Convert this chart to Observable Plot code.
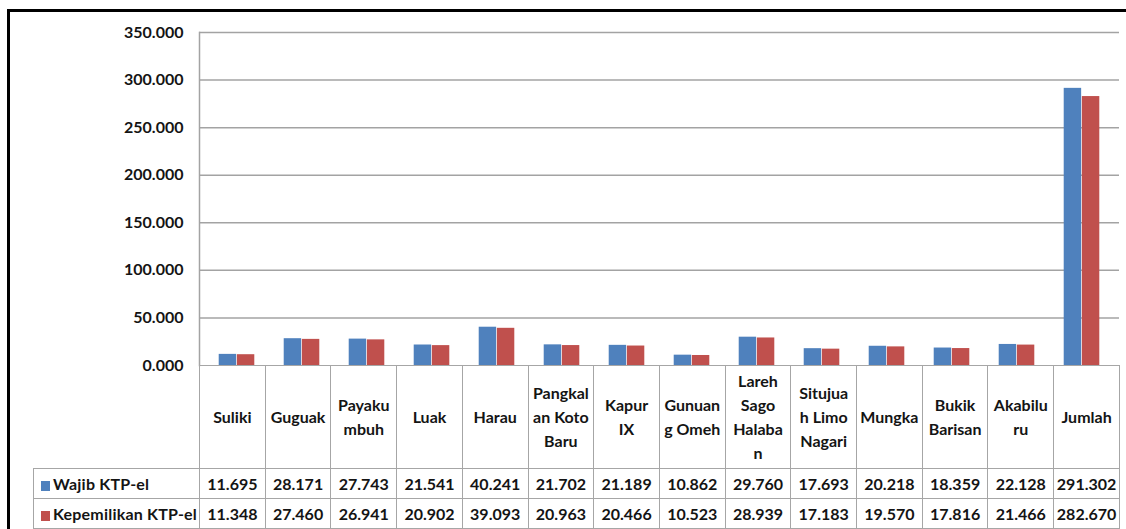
<!DOCTYPE html>
<html>
<head>
<meta charset="utf-8">
<script src="https://cdn.jsdelivr.net/npm/d3@7"></script>
<script src="https://cdn.jsdelivr.net/npm/@observablehq/plot@0.6"></script>
<style>
  body { margin: 0; background: #fff; }
  #wrap { position: relative; width: 1126px; height: 529px; overflow: hidden;
          font-family: Lato, "Open Sans", sans-serif; font-weight: 700; color: #141414; }
  #frame { position: absolute; left: 7px; top: 9px; width: 1300px; height: 700px;
           border-top: 3px solid #000; border-left: 3px solid #000; }
  #chart { position: absolute; left: 0; top: 0; }
  #table { position: absolute; left: 33px; top: 365px; border-collapse: collapse;
           table-layout: fixed; width: 1087px; }
  #table td { border: 1px solid #a6a6a6; text-align: center; font-size: 16px;
              padding: 0; overflow: hidden; }
  #table tr.cats td { height: 102px; white-space: pre-line; line-height: 24px; vertical-align: middle; }
  #table tr.cats td.blank { border-top: hidden; border-left: hidden; }
  #table tr.vals td { height: 29px; }
  #table td.key { text-align: left; padding-left: 7px; white-space: nowrap; letter-spacing: 0.2px; }
  .sw { display: inline-block; width: 9px; height: 10px; margin-right: 3px; vertical-align: -1px; }
</style>
</head>
<body>
<div id="wrap">
  <div id="frame"></div>
  <div id="chart"></div>
  <table id="table"></table>
</div>
<script>
// Kecamatan (districts) and the total column
const districts = ["Suliki", "Guguak", "Payakumbuh", "Luak", "Harau", "Pangkalan Koto Baru",
  "Kapur IX", "Gunuang Omeh", "Lareh Sago Halaban", "Situjuah Limo Nagari", "Mungka",
  "Bukik Barisan", "Akabiluru", "Jumlah"];
// Wrapped header text as shown in the data table
const districtLabels = ["Suliki", "Guguak", "Payaku\nmbuh", "Luak", "Harau", "Pangkal\nan Koto\nBaru",
  "Kapur\nIX", "Gunuan\ng Omeh", "Lareh\nSago\nHalaba\nn", "Situjua\nh Limo\nNagari", "Mungka",
  "Bukik\nBarisan", "Akabilu\nru", "Jumlah"];
const seriesNames = ["Wajib KTP-el", "Kepemilikan KTP-el"];
const seriesColors = ["#4F81BD", "#C0504D"];
// Values in thousands of people
const wajib = [11.695, 28.171, 27.743, 21.541, 40.241, 21.702, 21.189, 10.862, 29.760, 17.693,
  20.218, 18.359, 22.128, 291.302];
const kepemilikan = [11.348, 27.460, 26.941, 20.902, 39.093, 20.963, 20.466, 10.523, 28.939, 17.183,
  19.570, 17.816, 21.466, 282.670];
const yTicks = [0, 50, 100, 150, 200, 250, 300, 350];
const yTickLabels = ["0.000", "50.000", "100.000", "150.000", "200.000", "250.000", "300.000", "350.000"];

const rows = districts.flatMap((d, i) => [
  {district: d, series: seriesNames[0], value: wajib[i]},
  {district: d, series: seriesNames[1], value: kepemilikan[i]}
]);

const W = 1126, H = 385, ML = 199, MR = 7, MT = 32, MB = 20;
const colW = (W - ML - MR) / districts.length;
const barW = 18.15;
const half = colW / 2;

const chart = Plot.plot({
  width: W, height: H,
  marginLeft: ML, marginRight: MR, marginTop: MT, marginBottom: MB,
  style: {background: "transparent", fontFamily: "Lato, sans-serif", fontWeight: 700, fontSize: "16px", color: "#141414"},
  x: {domain: districts, padding: 0, axis: null},
  y: {domain: [0, 350], axis: null},
  color: {domain: seriesNames, range: seriesColors},
  marks: [
    Plot.ruleY(yTicks.slice(1), {stroke: "#a3a3a3", strokeWidth: 1.5}),
    Plot.barY(rows.filter(r => r.series === seriesNames[0]), {
      x: "district", y: "value", fill: "series",
      insetLeft: half - barW, insetRight: half
    }),
    Plot.barY(rows.filter(r => r.series === seriesNames[1]), {
      x: "district", y: "value", fill: "series",
      insetLeft: half, insetRight: half - barW
    }),
    Plot.frame({anchor: "left", stroke: "#a3a3a3", strokeWidth: 1.5}),
    Plot.ruleY([0], {stroke: "#a3a3a3", strokeWidth: 1}),
    Plot.axisY(yTicks, {
      tickSize: 0, tickPadding: 16, label: null,
      tickFormat: d => yTickLabels[yTicks.indexOf(d)],
      fontSize: 16, fill: "#141414"
    })
  ]
});
document.getElementById("chart").appendChild(chart);

// Data table under the chart: header row of districts, then one row per series
const table = document.getElementById("table");
const cg = document.createElement("colgroup");
cg.innerHTML = `<col style="width:166px">` + districts.map(() => `<col style="width:${colW}px">`).join("");
table.appendChild(cg);

const head = document.createElement("tr");
head.className = "cats";
head.innerHTML = `<td class="blank"></td>` + districtLabels.map(l => `<td>${l}</td>`).join("");
table.appendChild(head);

[wajib, kepemilikan].forEach((vals, s) => {
  const tr = document.createElement("tr");
  tr.className = "vals";
  tr.innerHTML = `<td class="key"><span class="sw" style="background:${seriesColors[s]}"></span>${seriesNames[s]}</td>` +
    vals.map(v => `<td>${v.toFixed(3)}</td>`).join("");
  table.appendChild(tr);
});
</script>
</body>
</html>
